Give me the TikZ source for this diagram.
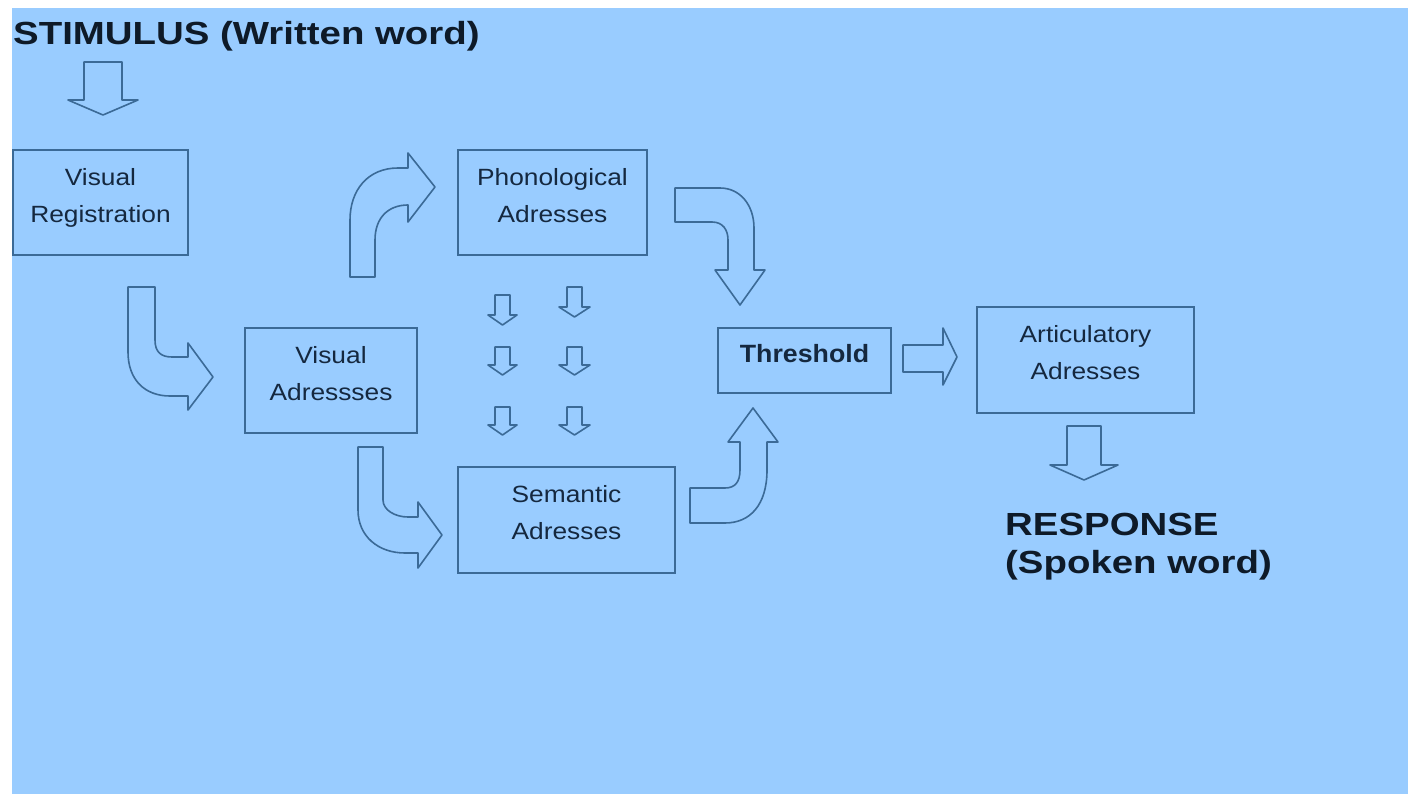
\documentclass[tikz,border=0pt]{standalone}
\usepackage{fontspec}
\setmainfont{Liberation Sans}
\newfontfamily\boxfont[FakeStretch=1.12]{Liberation Sans}
\newfontfamily\headfont[FakeStretch=1.2]{Liberation Sans}
\newfontfamily\threshfont[FakeStretch=1.07]{Liberation Sans}

\definecolor{bgblue}{HTML}{99CCFF}
\definecolor{edge}{HTML}{3B6A97}
\definecolor{ink}{HTML}{15283F}
\definecolor{headink}{HTML}{0E1A28}

% two centred lines, lifted a little inside their box
\newcommand{\twoline}[2]{\raisebox{6pt}[\height][\depth]{\begin{tabular}{@{}c@{}}#1\\#2\end{tabular}}}

% straight downward block arrow: centre x, top y, shaft half width, head base y, head half width, tip y
\newcommand{\downblock}[6]{%
  \draw[blockarrow] ({#1-#3},#2) -- ({#1+#3},#2) -- ({#1+#3},#4) -- ({#1+#5},#4)
    -- (#1,#6) -- ({#1-#5},#4) -- ({#1-#3},#4) -- cycle;}

\tikzset{
  stage/.style={draw=edge, line width=2pt, inner sep=0pt, text=ink,
    font=\boxfont\fontsize{23.5}{37}\selectfont},
  blockarrow/.style={draw=edge, line width=1.6pt, line join=round},
  headline/.style={inner sep=0pt, text=headink,
    font=\headfont\bfseries\fontsize{32}{38}\selectfont}
}

\begin{document}
\begin{tikzpicture}[x=1pt,y=-1pt]
\useasboundingbox (0,0) rectangle (1408,794);
\fill[white] (0,0) rectangle (1408,794);
\fill[bgblue] (12,8) rectangle (1408,794);

% headings
\node[headline, anchor=base west] (stim) at (13,45) {STIMULUS (Written word)};
\node[headline, anchor=north west, align=left] (resp) at (1005,513) {RESPONSE\\(Spoken word)};

% stages
\node[stage, minimum width=175pt, minimum height=105pt] (vreg) at (100.5,202.5) {\twoline{Visual}{Registration}};
\node[stage, minimum width=189pt, minimum height=105pt] (phon) at (552.5,202.5) {\twoline{Phonological}{Adresses}};
\node[stage, minimum width=172pt, minimum height=105pt] (vadr) at (331,380.5) {\twoline{Visual}{Adressses}};
\node[stage, minimum width=217pt, minimum height=106pt] (sem) at (566.5,520) {\twoline{Semantic}{Adresses}};
\node[stage, minimum width=173pt, minimum height=65pt,
      font=\threshfont\bfseries\fontsize{25}{30}\selectfont] (thr) at (804.5,360.5)
      {\raisebox{6.5pt}[\height][\depth]{Threshold}};
\node[stage, minimum width=217pt, minimum height=106pt] (art) at (1085.5,360) {\twoline{Articulatory}{Adresses}};

% stimulus enters
\downblock{103}{62}{19}{100}{35}{115}

% visual registration -> visual addresses
\draw[blockarrow] (128,287) -- (155,287) -- (155,340)
  .. controls (155,352) and (161,357) .. (172,357) -- (188,357) -- (188,343)
  -- (213,377) -- (188,410) -- (188,396) -- (170,396)
  .. controls (145,396) and (128,380) .. (128,352) -- cycle;

% visual addresses -> phonological addresses
\draw[blockarrow] (350,277) -- (375,277) -- (375,240)
  .. controls (375,218) and (388,205) .. (408,205) -- (408,222)
  -- (435,187) -- (408,153) -- (408,168) -- (398,168)
  .. controls (368,168) and (350,190) .. (350,220) -- cycle;

% phonological addresses -> threshold
\draw[blockarrow] (675,188) -- (720,188)
  .. controls (740,188) and (754,205) .. (754,228) -- (754,270) -- (765,270)
  -- (740,305) -- (715,270) -- (728,270) -- (728,240)
  .. controls (728,230) and (723,222) .. (712,222) -- (675,222) -- cycle;

% visual addresses -> semantic addresses
\draw[blockarrow] (358,447) -- (383,447) -- (383,500)
  .. controls (383,510) and (395,517) .. (408,517) -- (418,517) -- (418,502)
  -- (442,535) -- (418,568) -- (418,553) -- (405,553)
  .. controls (378,553) and (358,536) .. (358,510) -- cycle;

% semantic addresses -> threshold
\draw[blockarrow] (690,488) -- (725,488)
  .. controls (735,488) and (740,482) .. (740,470) -- (740,442) -- (728,442)
  -- (753,408) -- (778,442) -- (767,442) -- (767,470)
  .. controls (767,505) and (750,523) .. (725,523) -- (690,523) -- cycle;

% threshold -> articulatory addresses
\draw[blockarrow] (903,345) -- (943,345) -- (943,328) -- (957,357)
  -- (943,385) -- (943,372) -- (903,372) -- cycle;

% articulatory addresses -> response
\downblock{1084}{426}{17}{465}{34}{480}

% phonological <-> semantic small arrows
\downblock{502.5}{295}{7.5}{315}{14.5}{325}
\downblock{502.5}{347}{7.5}{365}{14.5}{375}
\downblock{502.5}{407}{7.5}{425}{14.5}{435}
\downblock{574.5}{287}{7.5}{307}{15.5}{317}
\downblock{574.5}{347}{7.5}{365}{15.5}{375}
\downblock{574.5}{407}{7.5}{425}{15.5}{435}
\end{tikzpicture}
\end{document}
